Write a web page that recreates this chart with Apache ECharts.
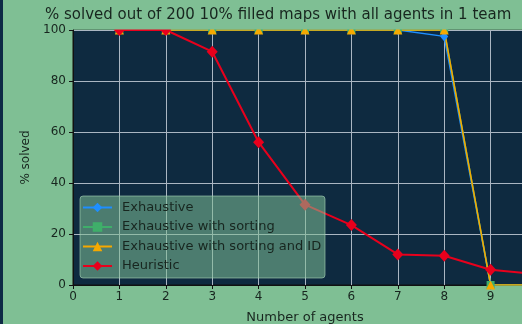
<!DOCTYPE html>
<html>
<head>
<meta charset="utf-8">
<script src="https://cdn.jsdelivr.net/npm/echarts@6/dist/echarts.min.js"></script>
<style>
  html, body { margin: 0; padding: 0; background: #7fbf94; }
  #chart { width: 522px; height: 324px; }
</style>
</head>
<body>
<div id="chart"></div>
<script>
// Number of agents per team, and % of the 200 maps solved by each method
const agents = [1, 2, 3, 4, 5, 6, 7, 8, 9, 10];
const exhaustive = [100, 100, 100, 100, 100, 100, 100, 97.5, 0, 0];
const exhaustiveSorting = [100, 100, 100, 100, 100, 100, 100, 100, 0, 0];
const exhaustiveSortingId = [100, 100, 100, 100, 100, 100, 100, 100, 0, 0];
const heuristic = [100, 100, 91.5, 56, 31.5, 23.5, 12, 11.5, 6, 4.3];

const xTicks = [0, 1, 2, 3, 4, 5, 6, 7, 8, 9, 10];
const yTicks = [0, 20, 40, 60, 80, 100];

const BG = '#7fbf94';
const PLOT = '#0e2a40';
const INK = '#18261f';
const FONT = 'DejaVu Sans';

const pairs = vals => agents.map((a, i) => [a, vals[i]]);

function lineSeries(name, vals, color, symbol, size, width) {
  return {
    name, type: 'line', data: pairs(vals),
    symbol, symbolSize: size, showSymbol: true,
    itemStyle: { color },
    lineStyle: { color, width },
    animation: false
  };
}

const chart = echarts.init(document.getElementById('chart'), null, { renderer: 'canvas' });

chart.setOption({
  backgroundColor: BG,
  animation: false,
  textStyle: { fontFamily: FONT },
  title: {
    text: '% solved out of 200 10% filled maps with all agents in 1 team',
    left: 45, top: 8, padding: 0, zlevel: 1, z: 10,
    textStyle: { fontFamily: FONT, fontSize: 15, fontWeight: 'normal', color: INK }
  },
  grid: {
    left: 73, top: 30, width: 464, height: 255,
    outerBoundsMode: 'none', containLabel: false,
    show: true, backgroundColor: PLOT, borderColor: '#111', borderWidth: 1
  },
  legend: {
    orient: 'vertical', left: 82, top: 201, padding: 0,
    itemWidth: 29, itemHeight: 12, itemGap: 6.5, zlevel: 1, z: 10,
    textStyle: { fontFamily: FONT, fontSize: 13, color: INK, padding: [0, 0, 0, 5] },
    data: ['Exhaustive', 'Exhaustive with sorting', 'Exhaustive with sorting and ID', 'Heuristic']
  },
  xAxis: {
    type: 'value', min: xTicks[0], max: xTicks[xTicks.length - 1], interval: 1,
    name: 'Number of agents', nameLocation: 'middle', nameGap: 26,
    nameTextStyle: { fontFamily: FONT, fontSize: 13, color: INK },
    axisLine: { show: true, lineStyle: { color: '#111', width: 1 } },
    axisTick: { show: true, length: 4, lineStyle: { color: '#111' } },
    axisLabel: { fontFamily: FONT, fontSize: 12, color: INK, margin: 6 },
    splitLine: { show: true, lineStyle: { color: '#aab6c2', width: 1 } }
  },
  yAxis: {
    type: 'value', min: yTicks[0], max: yTicks[yTicks.length - 1], interval: 20,
    name: '% solved', nameLocation: 'middle', nameGap: 38, nameRotate: 90,
    nameTextStyle: { fontFamily: FONT, fontSize: 12, color: INK },
    axisLine: { show: true, lineStyle: { color: '#111', width: 1 } },
    axisTick: { show: true, length: 4, lineStyle: { color: '#111' } },
    axisLabel: { fontFamily: FONT, fontSize: 12, color: INK, margin: 7 },
    splitLine: { show: true, lineStyle: { color: '#aab6c2', width: 1 } }
  },
  graphic: [
    // markers sitting on the 100% line are clipped by the plot frame
    { type: 'rect', zlevel: 1, z: 0, shape: { x: 73.5, y: 0, width: 460, height: 29.5 }, style: { fill: BG } },
    // translucent legend frame drawn over the lines
    { type: 'rect', zlevel: 1, z: 1, shape: { x: 80, y: 196, width: 245, height: 82, r: 3 },
      style: { fill: 'rgba(128,192,150,0.55)', stroke: 'rgba(170,215,185,0.6)', lineWidth: 1 } },
    // dark strip along the left edge
    { type: 'rect', zlevel: 1, z: 20, shape: { x: 0, y: 0, width: 3, height: 324 }, style: { fill: '#0d2a45' } }
  ],
  series: [
    lineSeries('Exhaustive', exhaustive, '#1e8fff', 'diamond', [8, 10], 1.5),
    lineSeries('Exhaustive with sorting', exhaustiveSorting, '#3fae6a', 'rect', 8, 1.5),
    lineSeries('Exhaustive with sorting and ID', exhaustiveSortingId, '#f5a900', 'triangle', 9, 1.5),
    lineSeries('Heuristic', heuristic, '#e8001c', 'diamond', [11, 12], 2)
  ]
});
</script>
</body>
</html>
